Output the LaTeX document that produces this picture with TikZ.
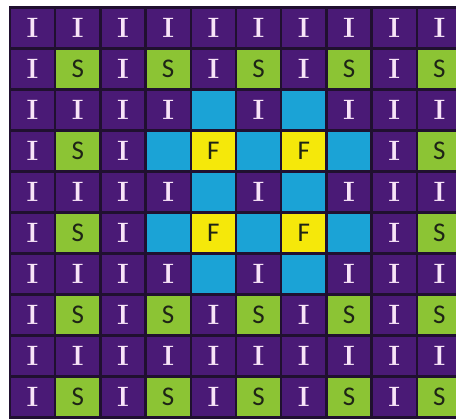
\documentclass[tikz,border=0pt]{standalone}
\usepackage{fontspec}
\usepackage{xcolor}
\usepackage{tikz}
\newfontfamily\sansletter{Carlito}
\definecolor{gridline}{RGB}{32,16,48}
\definecolor{plum}{RGB}{74,26,118}
\definecolor{lime}{RGB}{140,196,52}
\definecolor{sky}{RGB}{27,163,214}
\definecolor{lemon}{RGB}{245,232,10}
\definecolor{pinkwhite}{RGB}{248,228,248}
\definecolor{inkdark}{RGB}{30,36,22}

\begin{document}
\begin{tikzpicture}[
                        x = 1pt, y = -1pt,
                        cell/.style  = {draw=gridline, line width=2.4pt, minimum width=45.2pt,
                                      minimum height=41pt, inner sep=0pt},
                        cellI/.style = {cell, fill=plum, text=pinkwhite, font=\fontsize{28}{28}\selectfont\bfseries},
                        cellS/.style = {cell, fill=lime, text=inkdark, font=\fontsize{27}{27}\selectfont\sansletter},
                        cellF/.style = {cell, fill=lemon, text=inkdark, font=\fontsize{27}{27}\selectfont\sansletter},
                        cellC/.style = {cell, fill=sky}
                  ]
                  \clip (0,0) rectangle (456,419);
                  \fill[white] (0,0) rectangle (456,419);

                  % rows top to bottom
                  \foreach \row [count=\r] in {
                        {I,I,I,I,I,I,I,I,I,I},
                        {I,S,I,S,I,S,I,S,I,S},
                        {I,I,I,I,C,I,C,I,I,I},
                        {I,S,I,C,F,C,F,C,I,S},
                        {I,I,I,I,C,I,C,I,I,I},
                        {I,S,I,C,F,C,F,C,I,S},
                        {I,I,I,I,C,I,C,I,I,I},
                        {I,S,I,S,I,S,I,S,I,S},
                        {I,I,I,I,I,I,I,I,I,I},
                        {I,S,I,S,I,S,I,S,I,S}}
                  {
                        \foreach \k [count=\c] in \row
                              \node[cell\k] (c-\r-\c) at ({10+45.2*(\c-0.5)}, {7.5+41*(\r-0.5)}) {\if\k C\else\k\fi};
                  }
            \end{tikzpicture}
\end{document}
